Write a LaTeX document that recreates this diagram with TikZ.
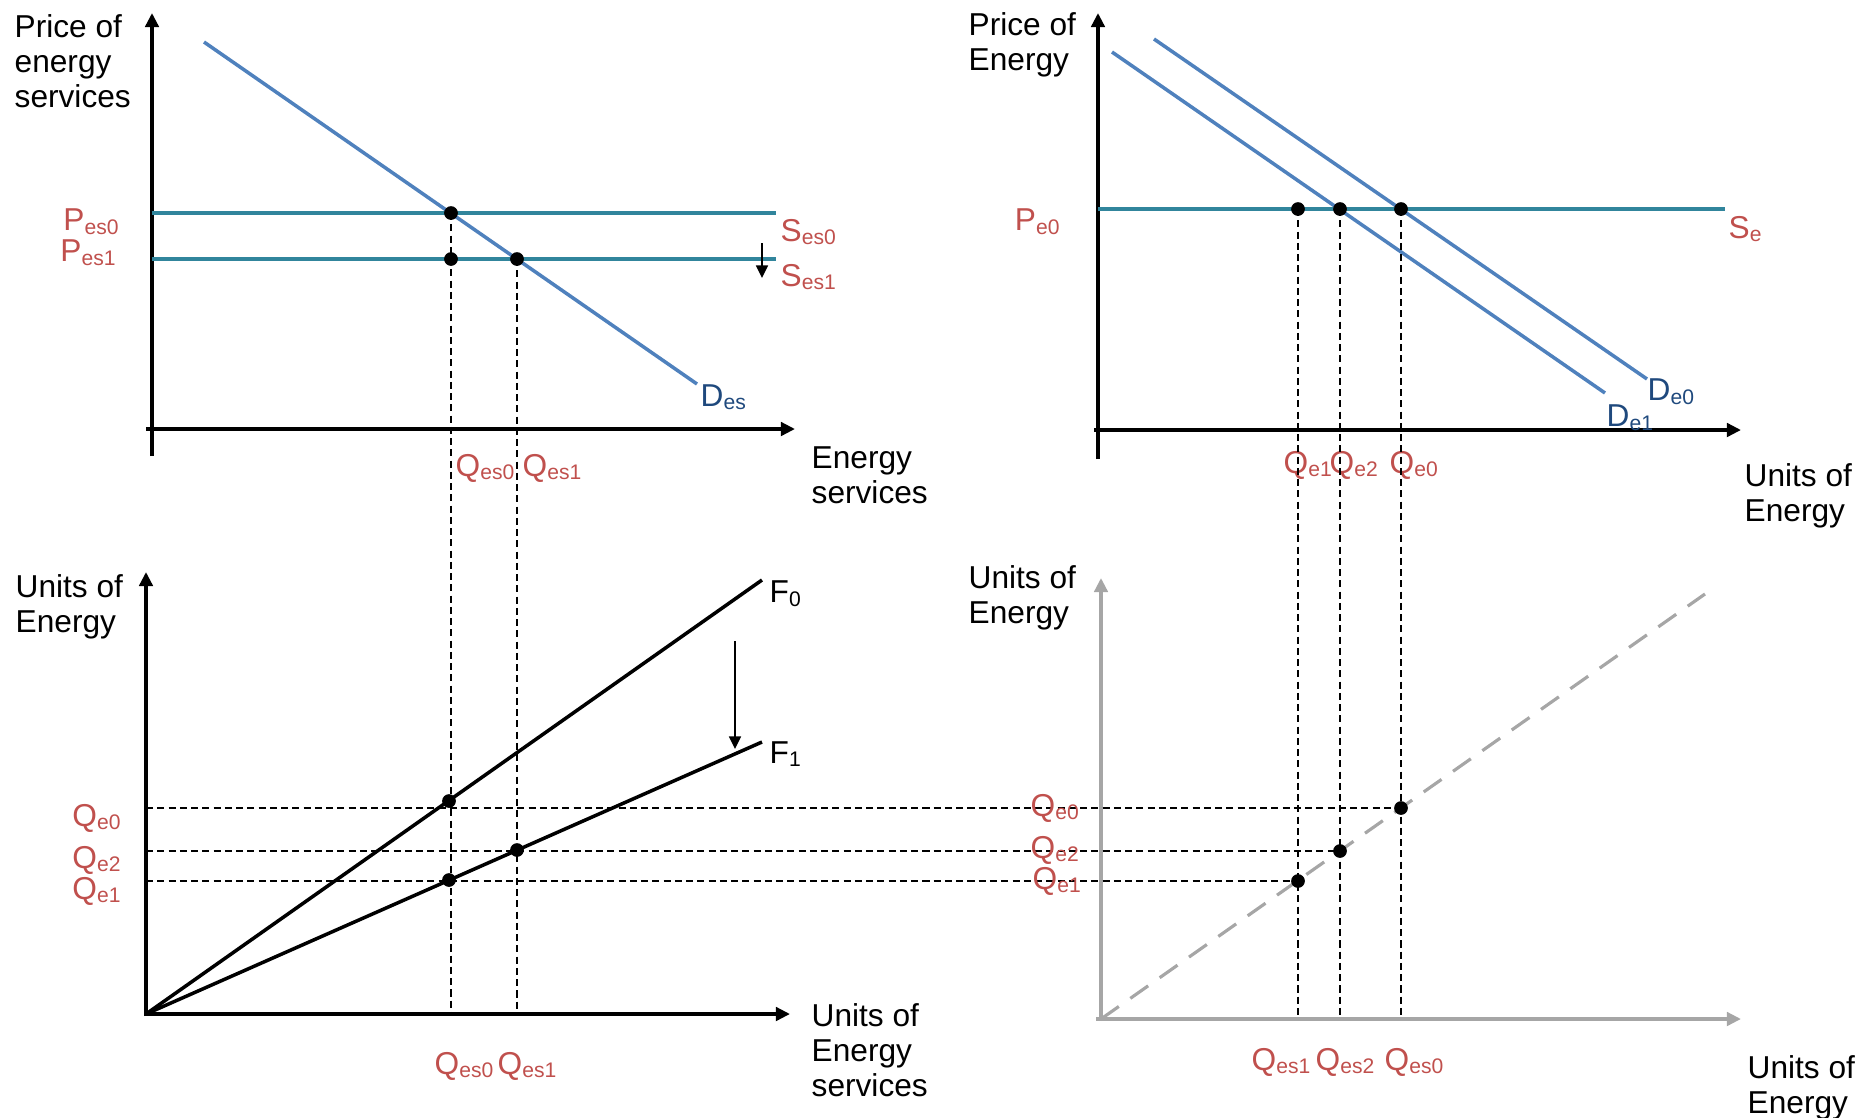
\documentclass[tikz,border=0pt]{standalone}
\usepackage{fontspec}
\setmainfont{Liberation Sans}
\usetikzlibrary{arrows.meta}
\definecolor{demandblue}{HTML}{4F81BD}
\definecolor{supplyteal}{HTML}{31859C}
\definecolor{labelred}{HTML}{C0504D}
\definecolor{curvenavy}{HTML}{1F497D}
\definecolor{guidegray}{HTML}{A6A6A6}

\begin{document}
\begin{tikzpicture}[
    axis/.style={line width=1.1pt, -{Triangle[length=4pt, width=3.8pt]}},
    greyaxis/.style={axis, draw=guidegray, fill=guidegray},
    demand/.style={line width=1pt, draw=demandblue},
    supply/.style={line width=1.1pt, draw=supplyteal},
    fline/.style={line width=1pt},
    guide/.style={line width=0.45pt, dash pattern=on 2pt off 1.2pt},
    shiftarrow/.style={line width=0.5pt, -{Triangle[length=3.6pt, width=3.4pt]}},
    dot/.style={circle, fill=black, inner sep=0pt, minimum size=3.9pt},
    axlabel/.style={font=\fontsize{9}{10}\selectfont, align=left, inner sep=0pt, anchor=north west},
    lab/.style={font=\fontsize{9}{10}\selectfont, text=labelred, inner sep=0pt},
    dlab/.style={lab, text=curvenavy},
    x=0.01cm, y=-0.01cm]

    \useasboundingbox (0,0) rectangle (1871,1117);

    % ----- top left: market for energy services
    \coordinate (tlo) at (152,429);
    \draw[axis] (152,456) -- (152,13);
    \draw[axis] (146,429) -- (795,429);
    \draw[supply] (152,213) -- (776,213);
    \draw[supply] (152,259) -- (776,259);
    \draw[demand] (204,42) -- (697,384);
    \node[dot] (es0) at (451,213) {};
    \node[dot] (es0b) at (451,259) {};
    \node[dot] (es1) at (517,259) {};
    \draw[shiftarrow] (762,243) -- (762,278);

    \node[axlabel] (tly) at (14,14) {Price of\\energy\\services};
    \node[axlabel] (tlx) at (811,446) {Energy\\services};
    \node[lab, anchor=east] at (121,222) {P\textsubscript{es0}};
    \node[lab, anchor=east] at (118,253) {P\textsubscript{es1}};
    \node[lab, anchor=west] at (780,232) {S\textsubscript{es0}};
    \node[lab, anchor=west] at (780,277) {S\textsubscript{es1}};
    \node[dlab, anchor=west] at (700,397) {D\textsubscript{es}};
    \node[lab, anchor=west] at (455,468) {Q\textsubscript{es0}};
    \node[lab, anchor=west] at (522,468) {Q\textsubscript{es1}};

    % ----- top right: market for energy
    \coordinate (tro) at (1098,430);
    \draw[axis] (1098,459) -- (1098,13);
    \draw[axis] (1094,430) -- (1741,430);
    \draw[supply] (1098,209) -- (1725,209);
    \draw[demand] (1154,39) -- (1647,379);
    \draw[demand] (1112,52) -- (1605,393);
    \node[dot] (e1) at (1298,209) {};
    \node[dot] (e2) at (1340,209) {};
    \node[dot] (e0) at (1401,209) {};

    \node[axlabel] (try) at (968,12) {Price of\\Energy};
    \node[axlabel] (trx) at (1744,463) {Units of\\Energy};
    \node[lab, anchor=east] at (1062,222) {P\textsubscript{e0}};
    \node[lab, anchor=west] at (1728,229) {S\textsubscript{e}};
    \node[dlab, anchor=west] at (1647,392) {D\textsubscript{e0}};
    \node[dlab, anchor=west] at (1606,418) {D\textsubscript{e1}};
    \node[lab, anchor=west] at (1283,465) {Q\textsubscript{e1}};
    \node[lab, anchor=west] at (1329,465) {Q\textsubscript{e2}};
    \node[lab, anchor=west] at (1389,465) {Q\textsubscript{e0}};

    % ----- bottom left: energy needed per unit of service
    \coordinate (blo) at (146,1014);
    \draw[axis] (146,1016) -- (146,572);
    \draw[axis] (144,1014) -- (790,1014);
    \draw[fline] (blo) -- (762,580);
    \draw[fline] (blo) -- (762,742);
    \node[dot] (f0) at (449,801) {};
    \node[dot] (f1a) at (449,880) {};
    \node[dot] (f1b) at (517,850) {};
    \draw[shiftarrow] (735,641) -- (735,749);

    \node[axlabel] (bly) at (15,574) {Units of\\Energy};
    \node[axlabel] (blx) at (811,1003) {Units of\\Energy\\services};
    \node[anchor=west, inner sep=0pt, font=\fontsize{9}{10}\selectfont] at (769,594) {F\textsubscript{0}};
    \node[anchor=west, inner sep=0pt, font=\fontsize{9}{10}\selectfont] at (769,754) {F\textsubscript{1}};
    \node[lab, anchor=east] at (123,818) {Q\textsubscript{e0}};
    \node[lab, anchor=east] at (123,860) {Q\textsubscript{e2}};
    \node[lab, anchor=east] at (123,891) {Q\textsubscript{e1}};
    \node[lab, anchor=west] at (434,1066) {Q\textsubscript{es0}};
    \node[lab, anchor=west] at (497,1066) {Q\textsubscript{es1}};

    % ----- bottom right: 45 degree mirror
    \coordinate (bro) at (1101,1019);
    \draw[greyaxis] (1101,1021) -- (1101,578);
    \draw[greyaxis] (1096,1019) -- (1741,1019);
    \draw[line width=0.9pt, draw=guidegray, dash pattern=on 6.2pt off 4pt] (bro) -- (1705,594);
    \node[dot] (m1) at (1298,881) {};
    \node[dot] (m2) at (1340,851) {};
    \node[dot] (m0) at (1401,808) {};

    \node[axlabel] (bry) at (968,565) {Units of\\Energy};
    \node[axlabel] (brx) at (1747,1055) {Units of\\Energy};

    % ----- guides linking the four panels
    \draw[guide] (es0.center) -- (es0.center |- blo);
    \draw[guide] (es1.center) -- (es1.center |- blo);
    \foreach \p in {e1, e2, e0} {
        \draw[guide] (\p.center) -- (\p.center |- bro);
    }
    \draw[guide] (blo |- m0) -- (m0.center);
    \draw[guide] (blo |- m2) -- (m2.center);
    \draw[guide] (blo |- m1) -- (m1.center);

    \node[lab, anchor=west] at (1030,808) {Q\textsubscript{e0}};
    \node[lab, anchor=west] at (1030,850) {Q\textsubscript{e2}};
    \node[lab, anchor=west] at (1032,881) {Q\textsubscript{e1}};
    \node[lab, anchor=west] at (1251,1062) {Q\textsubscript{es1}};
    \node[lab, anchor=west] at (1315,1062) {Q\textsubscript{es2}};
    \node[lab, anchor=west] at (1384,1062) {Q\textsubscript{es0}};
\end{tikzpicture}
\end{document}
